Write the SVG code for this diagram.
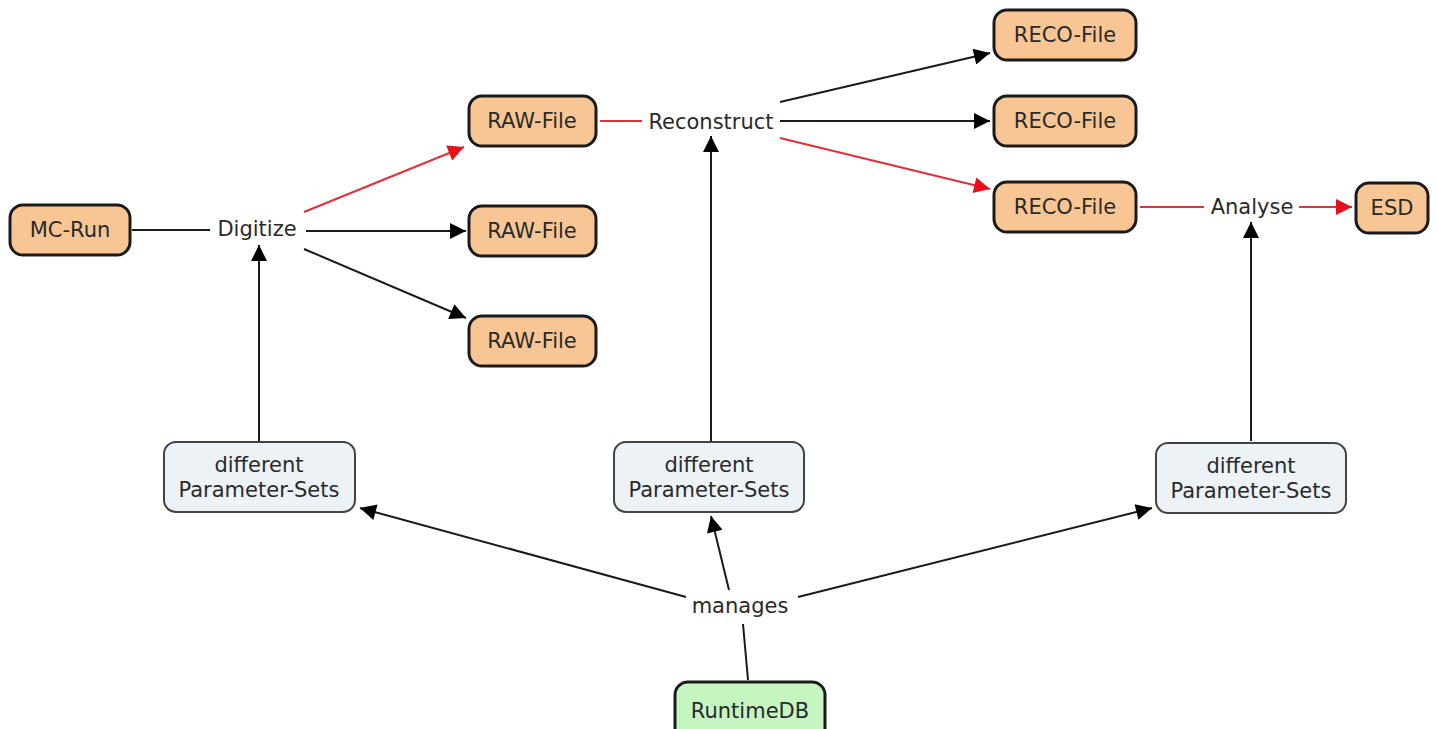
<svg xmlns="http://www.w3.org/2000/svg" width="1438" height="729" viewBox="0 0 1438 729">
<defs>
<marker id="ab" viewBox="0 0 10 10" refX="10" refY="5" markerWidth="18" markerHeight="16" markerUnits="userSpaceOnUse" orient="auto"><path d="M0,0 L10,5 L0,10 z" fill="#000"/></marker>
<marker id="ar" viewBox="0 0 10 10" refX="10" refY="5" markerWidth="18" markerHeight="16" markerUnits="userSpaceOnUse" orient="auto"><path d="M0,0 L10,5 L0,10 z" fill="#e8101a"/></marker>
<style>
.file{fill:#f8c694;stroke:#1a1a1a;stroke-width:3}
.param{fill:#ecf2f5;stroke:#444;stroke-width:2}
.db{fill:#c5f5c0;stroke:#1a1a1a;stroke-width:3}
text{font-family:"DejaVu Sans","Liberation Sans",sans-serif;font-size:21px;fill:#2a2a2a;text-anchor:middle;dominant-baseline:central}
.b{stroke:#1a1a1a;stroke-width:2;fill:none}
.r{stroke:#e0303a;stroke-width:2;fill:none}
</style>
</defs>
<g id="connectors">
<line class="b" x1="132" y1="230" x2="210" y2="230"/>
<line class="r" x1="304" y1="212" x2="464" y2="147" marker-end="url(#ar)"/>
<line class="b" x1="306" y1="231" x2="466" y2="231" marker-end="url(#ab)"/>
<line class="b" x1="304" y1="249" x2="466" y2="318" marker-end="url(#ab)"/>
<line class="b" x1="259" y1="441" x2="259" y2="245" marker-end="url(#ab)"/>
<line class="r" x1="600" y1="121" x2="642" y2="121"/>
<line class="b" x1="780" y1="102" x2="990" y2="53" marker-end="url(#ab)"/>
<line class="b" x1="780" y1="121" x2="990" y2="121" marker-end="url(#ab)"/>
<line class="r" x1="780" y1="138" x2="990" y2="189" marker-end="url(#ar)"/>
<line class="b" x1="711" y1="441" x2="711" y2="136" marker-end="url(#ab)"/>
<line class="r" x1="1140" y1="207" x2="1204" y2="207"/>
<line class="r" x1="1299" y1="207" x2="1352" y2="207" marker-end="url(#ar)"/>
<line class="b" x1="1251" y1="441" x2="1251" y2="222" marker-end="url(#ab)"/>
<line class="b" x1="686" y1="597" x2="360" y2="508" marker-end="url(#ab)"/>
<line class="b" x1="729" y1="590" x2="711" y2="516" marker-end="url(#ab)"/>
<line class="b" x1="798" y1="597" x2="1152" y2="508" marker-end="url(#ab)"/>
<line class="b" x1="748" y1="680" x2="743" y2="624"/>
</g>
<g id="mc-run"><rect class="file" x="10" y="205" width="120" height="50" rx="13"/><text x="70" y="230">MC-Run</text></g>
<g id="digitize"><text x="257" y="229">Digitize</text></g>
<g id="raw1"><rect class="file" x="469" y="96" width="127" height="50" rx="13"/><text x="532" y="121">RAW-File</text></g>
<g id="raw2"><rect class="file" x="469" y="206" width="127" height="50" rx="13"/><text x="532" y="231">RAW-File</text></g>
<g id="raw3"><rect class="file" x="469" y="316" width="127" height="50" rx="13"/><text x="532" y="341">RAW-File</text></g>
<g id="reconstruct"><text x="711" y="122">Reconstruct</text></g>
<g id="reco1"><rect class="file" x="994" y="10" width="142" height="50" rx="13"/><text x="1065" y="35">RECO-File</text></g>
<g id="reco2"><rect class="file" x="994" y="96" width="142" height="50" rx="13"/><text x="1065" y="121">RECO-File</text></g>
<g id="reco3"><rect class="file" x="994" y="182" width="142" height="50" rx="13"/><text x="1065" y="207">RECO-File</text></g>
<g id="analyse"><text x="1252" y="207">Analyse</text></g>
<g id="esd"><rect class="file" x="1356" y="183" width="72" height="50" rx="13"/><text x="1392" y="208">ESD</text></g>
<g id="params1"><rect class="param" x="164" y="442" width="191" height="70" rx="12"/><text x="259" y="465">different</text><text x="259" y="490">Parameter-Sets</text></g>
<g id="params2"><rect class="param" x="614" y="442" width="190" height="70" rx="12"/><text x="709" y="465">different</text><text x="709" y="490">Parameter-Sets</text></g>
<g id="params3"><rect class="param" x="1156" y="443" width="190" height="70" rx="12"/><text x="1251" y="466">different</text><text x="1251" y="491">Parameter-Sets</text></g>
<g id="manages"><text x="740" y="606">manages</text></g>
<g id="runtimedb"><rect class="db" x="675" y="682" width="150" height="60" rx="13"/><text x="750" y="711">RuntimeDB</text></g>
</svg>
